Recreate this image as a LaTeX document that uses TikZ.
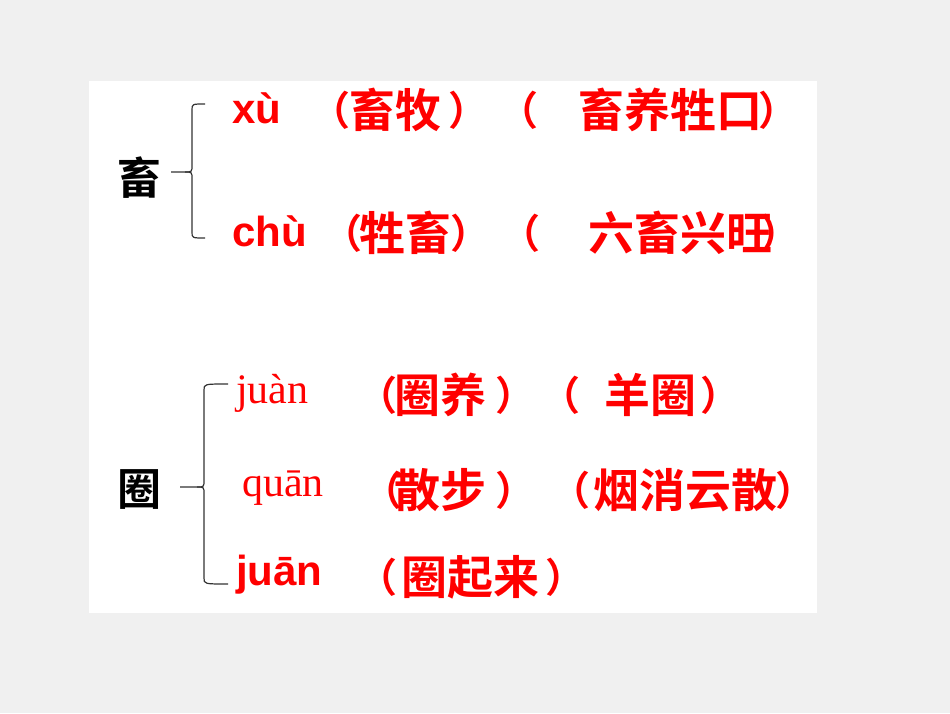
\documentclass[tikz,border=0pt]{standalone}
\usepackage{fontspec}
\newfontfamily\cjk{Noto Sans CJK SC Bold}
\newfontfamily\psans{Liberation Sans Bold}
\newfontfamily\pserif{Liberation Serif}
\begin{document}
\begin{tikzpicture}[x=1pt,y=-1pt,
  py/.style={text=red,anchor=west,inner sep=0pt,font=\fontsize{42}{42}\selectfont},
  cj/.style={text=red,inner sep=0pt,font=\cjk\fontsize{46}{46}\selectfont},
  pa/.style={text=red,inner sep=0pt,font=\cjk\fontsize{40}{40}\selectfont},
  hd/.style={text=black,inner sep=0pt,font=\cjk\fontsize{44}{44}\selectfont},
  br/.style={draw=black!80,line width=1.2pt}]
\fill[black!6] (0,0) rectangle (950,713);
\fill[white] (89,81) rectangle (817,613);
\node[hd] (h1) at (139,178) {畜};
\node[hd] (h2) at (139,489) {圈};
% line 1
\node[py] (a) at (232,108) {\psans xù};
\node[pa] (a1) at (330,110) {（};
\node[cj] (a2) at (395,110) {畜牧};
\node[pa] (a3) at (468,110) {）};
\node[pa] (a4) at (518,110) {（};
\node[cj] (a5) at (670,110) {畜养牲口};
\node[pa] (a6) at (778,110) {）};
% line 2
\node[py] (b) at (232,231) {\psans chù};
\node[pa] (b1) at (342,233) {（};
\node[cj] (b2) at (405,233) {牲畜};
\node[pa] (b3) at (470,233) {）};
\node[pa] (b4) at (520,233) {（};
\node[cj] (b5) at (680,233) {六畜兴旺};
\node[pa] (b6) at (780,233) {）};
% line 3
\node[py] (c) at (236,393) {\pserif juàn};
\node[pa] (c1) at (377,395) {（};
\node[cj] (c2) at (440,395) {圈养};
\node[pa] (c3) at (515,395) {）};
\node[pa] (c4) at (560,395) {（};
\node[cj] (c5) at (650,395) {羊圈};
\node[pa] (c6) at (720,395) {）};
% line 4
\node[py] (d) at (242,488) {\pserif quān};
\node[pa] (d1) at (382,490) {（};
\node[cj] (d2) at (440,490) {散步};
\node[pa] (d3) at (515,490) {）};
\node[pa] (d4) at (570,490) {（};
\node[cj] (d5) at (685,490) {烟消云散};
\node[pa] (d6) at (795,490) {）};
% line 5
\node[py] (e) at (236,575) {\psans juān};
\node[pa] (e1) at (377,577) {（};
\node[cj] (e2) at (470,577) {圈起来};
\node[pa] (e3) at (565,577) {）};
\coordinate (t1) at (171,172);
\draw[br] (t1) -- (185,172) .. controls (192,172) .. (192,165) -- (192,110) .. controls (192,104) .. (205,104);
\draw[br] (185,172) .. controls (192,172) .. (192,179) -- (192,232) .. controls (192,238) .. (205,238);
\coordinate (t2) at (180,487);
\draw[br] (t2) -- (197,487) .. controls (204,487) .. (204,480) -- (204,390) .. controls (204,384) .. (228,384);
\draw[br] (197,487) .. controls (204,487) .. (204,494) -- (204,578) .. controls (204,584) .. (228,584);
\end{tikzpicture}
\end{document}
